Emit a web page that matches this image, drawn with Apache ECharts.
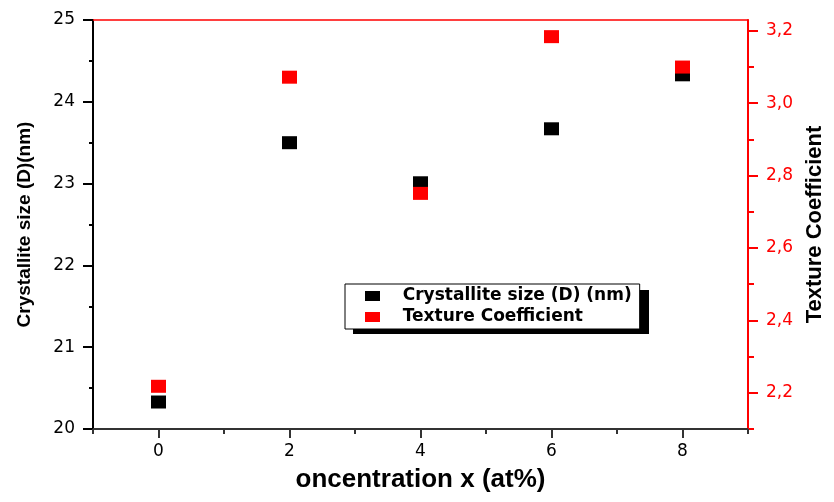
<!DOCTYPE html>
<html>
<head>
<meta charset="utf-8">
<script src="https://cdn.jsdelivr.net/npm/echarts@6/dist/echarts.min.js"></script>
<style>
  html, body { margin: 0; padding: 0; background: #fff; }
  #chart { width: 834px; height: 502px; }
</style>
</head>
<body>
<div id="chart"></div>
<script>
// Doping concentration (at%)
const concentration = [0, 2, 4, 6, 8];
// Crystallite size D (nm), left axis
const crystalliteSize = [20.33, 23.50, 23.01, 23.67, 24.33];
// Texture coefficient, right axis
const textureCoefficient = [2.218, 3.072, 2.751, 3.184, 3.100];

const xMajorTicks = [0, 2, 4, 6, 8];
const xMinorTicks = [-1, 1, 3, 5, 7, 9];
const tcMajorTicks = [2.2, 2.4, 2.6, 2.8, 3.0, 3.2];
const tcMinorTicks = [2.1, 2.3, 2.5, 2.7, 2.9, 3.1];

const seriesNames = ['Crystallite size (D) (nm)', 'Texture Coefficient'];

const tickFont = { fontFamily: 'DejaVu Sans', fontSize: 17 };
const titleFont = { fontFamily: 'Liberation Sans', fontWeight: 'bold', color: '#000' };

const chart = echarts.init(document.getElementById('chart'), null, { renderer: 'canvas' });

chart.setOption({
  animation: false,
  backgroundColor: '#fff',
  grid: { left: 93, right: 84, top: 20, bottom: 73, containLabel: false },
  // solid drop shadow behind the legend box
  graphic: [{
    type: 'rect',
    left: 353, top: 290, z: 0,
    shape: { width: 296, height: 44 },
    style: { fill: '#000' }
  }],
  legend: {
    orient: 'vertical',
    left: 345,
    top: 284,
    z: 10,
    data: seriesNames,
    backgroundColor: '#fff',
    borderColor: '#000',
    borderWidth: 1,
    padding: [3, 8, 3, 20],
    itemWidth: 15,
    itemHeight: 10,
    itemGap: 3,
    icon: 'rect',
    formatter: name => '   ' + name,
    textStyle: { fontFamily: 'DejaVu Sans', fontWeight: 'bold', fontSize: 17, lineHeight: 18, color: '#000' }
  },
  xAxis: [
    {
      type: 'value', min: -1, max: 9, position: 'bottom',
      name: 'oncentration x (at%)', nameLocation: 'middle', nameGap: 38,
      nameTextStyle: Object.assign({ fontSize: 26 }, titleFont),
      axisLine: { onZero: false, lineStyle: { color: '#333', width: 2 } },
      axisTick: { customValues: xMajorTicks, length: 9, lineStyle: { color: '#333', width: 2 } },
      axisLabel: Object.assign({ customValues: xMajorTicks, margin: 14, color: '#000' }, tickFont),
      splitLine: { show: false }
    },
    {
      type: 'value', min: -1, max: 9, position: 'bottom',
      axisLine: { show: false, onZero: false },
      axisTick: { customValues: xMinorTicks, length: 5, lineStyle: { color: '#333', width: 2 } },
      axisLabel: { show: false },
      splitLine: { show: false }
    },
    {
      type: 'value', min: -1, max: 9, position: 'top',
      axisLine: { onZero: false, lineStyle: { color: '#ff0000', width: 1.5 } },
      axisTick: { show: false },
      axisLabel: { show: false },
      splitLine: { show: false }
    }
  ],
  yAxis: [
    {
      type: 'value', min: 20, max: 25, interval: 1, position: 'left',
      name: 'Crystallite size (D)(nm)', nameLocation: 'middle', nameGap: 59,
      nameTextStyle: Object.assign({ fontSize: 19 }, titleFont),
      axisLine: { onZero: false, lineStyle: { color: '#000', width: 2 } },
      axisTick: { length: 10, lineStyle: { color: '#000', width: 2 } },
      minorTick: { show: true, splitNumber: 2, length: 4, lineStyle: { color: '#000', width: 2 } },
      axisLabel: Object.assign({ margin: 18, color: '#000' }, tickFont),
      splitLine: { show: false }
    },
    {
      type: 'value', min: 2.1, max: 3.23, position: 'right',
      name: 'Texture Coefficient', nameLocation: 'middle', nameGap: 56,
      nameTextStyle: Object.assign({ fontSize: 22 }, titleFont),
      axisLine: { onZero: false, lineStyle: { color: '#ff0000', width: 2 } },
      axisTick: { customValues: tcMajorTicks, length: 10, lineStyle: { color: '#ff0000', width: 2 } },
      axisLabel: Object.assign({
        customValues: tcMajorTicks, margin: 18, color: '#ff0000',
        formatter: v => v.toFixed(1).replace('.', ',')
      }, tickFont),
      splitLine: { show: false }
    },
    {
      type: 'value', min: 2.1, max: 3.23, position: 'right',
      axisLine: { show: false, onZero: false },
      axisTick: { customValues: tcMinorTicks, length: 6, lineStyle: { color: '#ff0000', width: 2 } },
      axisLabel: { show: false },
      splitLine: { show: false }
    }
  ],
  series: [
    {
      name: seriesNames[0],
      type: 'scatter',
      xAxisIndex: 0, yAxisIndex: 0,
      symbol: 'rect', symbolSize: [15, 13],
      itemStyle: { color: '#000', opacity: 1 },
      data: concentration.map((x, i) => [x, crystalliteSize[i]])
    },
    {
      name: seriesNames[1],
      type: 'scatter',
      xAxisIndex: 0, yAxisIndex: 1,
      symbol: 'rect', symbolSize: [15, 13],
      itemStyle: { color: '#ff0000', opacity: 1 },
      data: concentration.map((x, i) => [x, textureCoefficient[i]])
    }
  ]
});
</script>
</body>
</html>
